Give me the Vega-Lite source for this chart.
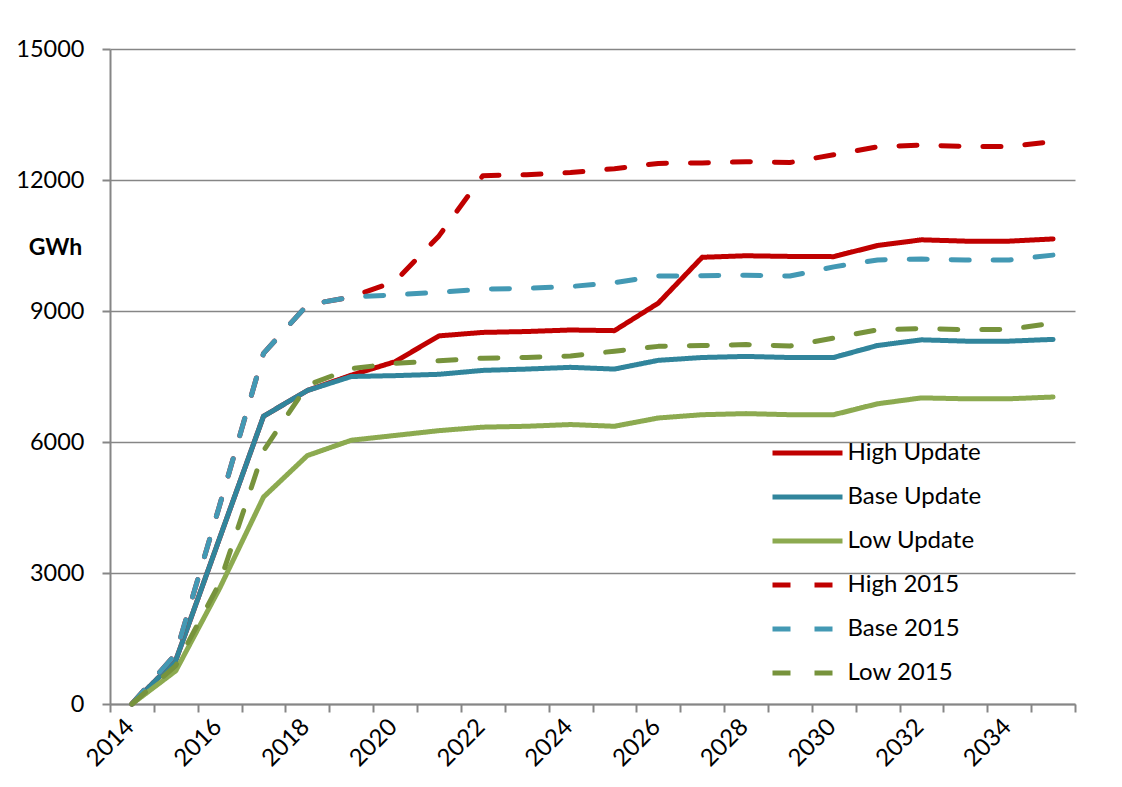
{
  "$schema": "https://vega.github.io/schema/vega-lite/v6.json",
  "width": 965,
  "height": 655,
  "autosize": {"type": "none"},
  "padding": {"left": 110, "top": 49, "right": 47, "bottom": 83},
  "background": "white",
  "config": {"view": {"stroke": null}, "font": "Lato"},
  "data": {
    "values": [
      {"year": 2014, "High Update": 0, "Base Update": 0, "Low Update": 0, "High 2015": 0, "Base 2015": 0, "Low 2015": 0},
      {"year": 2015, "High Update": 1000, "Base Update": 1000, "Low Update": 760, "High 2015": 1150, "Base 2015": 1150, "Low 2015": 880},
      {"year": 2016, "High Update": 3800, "Base Update": 3800, "Low Update": 2650, "High 2015": 4550, "Base 2015": 4550, "Low 2015": 2770},
      {"year": 2017, "High Update": 6590, "Base Update": 6590, "Low Update": 4740, "High 2015": 8030, "Base 2015": 8030, "Low 2015": 5800},
      {"year": 2018, "High Update": 7180, "Base Update": 7180, "Low Update": 5690, "High 2015": 9140, "Base 2015": 9140, "Low 2015": 7300},
      {"year": 2019, "High Update": 7530, "Base Update": 7500, "Low Update": 6040, "High 2015": 9320, "Base 2015": 9320, "Low 2015": 7680},
      {"year": 2020, "High Update": 7840, "Base Update": 7520, "Low Update": 6150, "High 2015": 9680, "Base 2015": 9370, "Low 2015": 7800},
      {"year": 2021, "High Update": 8430, "Base Update": 7550, "Low Update": 6260, "High 2015": 10720, "Base 2015": 9430, "Low 2015": 7860},
      {"year": 2022, "High Update": 8510, "Base Update": 7640, "Low Update": 6340, "High 2015": 12100, "Base 2015": 9500, "Low 2015": 7920},
      {"year": 2023, "High Update": 8530, "Base Update": 7670, "Low Update": 6360, "High 2015": 12120, "Base 2015": 9520, "Low 2015": 7935},
      {"year": 2024, "High Update": 8565, "Base Update": 7710, "Low Update": 6400, "High 2015": 12170, "Base 2015": 9560, "Low 2015": 7970},
      {"year": 2025, "High Update": 8550, "Base Update": 7670, "Low Update": 6360, "High 2015": 12260, "Base 2015": 9650, "Low 2015": 8080},
      {"year": 2026, "High Update": 9180, "Base Update": 7870, "Low Update": 6550, "High 2015": 12380, "Base 2015": 9800, "Low 2015": 8190},
      {"year": 2027, "High Update": 10230, "Base Update": 7935, "Low Update": 6625, "High 2015": 12390, "Base 2015": 9810, "Low 2015": 8210},
      {"year": 2028, "High Update": 10265, "Base Update": 7960, "Low Update": 6650, "High 2015": 12420, "Base 2015": 9820, "Low 2015": 8230},
      {"year": 2029, "High Update": 10250, "Base Update": 7935, "Low Update": 6625, "High 2015": 12400, "Base 2015": 9800, "Low 2015": 8200},
      {"year": 2030, "High Update": 10245, "Base Update": 7935, "Low Update": 6625, "High 2015": 12580, "Base 2015": 10010, "Low 2015": 8380},
      {"year": 2031, "High Update": 10500, "Base Update": 8210, "Low Update": 6875, "High 2015": 12760, "Base 2015": 10170, "Low 2015": 8570},
      {"year": 2032, "High Update": 10630, "Base Update": 8340, "Low Update": 7010, "High 2015": 12800, "Base 2015": 10190, "Low 2015": 8600},
      {"year": 2033, "High Update": 10600, "Base Update": 8310, "Low Update": 6990, "High 2015": 12770, "Base 2015": 10170, "Low 2015": 8570},
      {"year": 2034, "High Update": 10600, "Base Update": 8310, "Low Update": 6990, "High 2015": 12770, "Base 2015": 10170, "Low 2015": 8580},
      {"year": 2035, "High Update": 10650, "Base Update": 8350, "Low Update": 7030, "High 2015": 12880, "Base 2015": 10280, "Low 2015": 8720}
    ]
  },
  "transform": [
    {"fold": ["High Update", "Base Update", "Low Update", "High 2015", "Base 2015", "Low 2015"], "as": ["series", "gwh"]}
  ],
  "mark": {"type": "line", "strokeWidth": 5, "strokeCap": "round", "strokeJoin": "round"},
  "encoding": {
    "x": {
      "field": "year",
      "type": "quantitative",
      "scale": {"domain": [2013.5, 2035.5], "nice": false, "zero": false},
      "axis": {
        "title": null,
        "values": [2013.5, 2014.5, 2015.5, 2016.5, 2017.5, 2018.5, 2019.5, 2020.5, 2021.5, 2022.5, 2023.5, 2024.5, 2025.5, 2026.5, 2027.5, 2028.5, 2029.5, 2030.5, 2031.5, 2032.5, 2033.5, 2034.5, 2035.5],
        "labelExpr": "(datum.value + 0.5) % 2 === 0 && datum.value < 2035 ? '' + (datum.value + 0.5) : ''",
        "labelOffset": 20,
        "labelAngle": -45,
        "labelAlign": "right",
        "labelBaseline": "middle",
        "labelPadding": 11,
        "labelFontSize": 24,
        "labelColor": "#000000",
        "labelOverlap": false,
        "labelFlush": false,
        "labelBound": false,
        "grid": false,
        "tickSize": 8,
        "tickColor": "#868686",
        "tickWidth": 2,
        "domainColor": "#868686",
        "domainWidth": 2
      }
    },
    "y": {
      "field": "gwh",
      "type": "quantitative",
      "scale": {"domain": [0, 15000], "nice": false},
      "axis": {
        "values": [0, 3000, 6000, 9000, 12000, 15000],
        "format": "d",
        "title": "GWh",
        "titleAngle": 0,
        "titleX": -55,
        "titleY": 198,
        "titleAlign": "center",
        "titleBaseline": "middle",
        "titleFontSize": 23,
        "titleFontWeight": "bold",
        "titleColor": "#000000",
        "grid": true,
        "gridColor": "#868686",
        "gridWidth": 1.5,
        "domainColor": "#868686",
        "domainWidth": 2,
        "tickColor": "#868686",
        "tickWidth": 2,
        "tickSize": 8,
        "labelFontSize": 23.5,
        "labelColor": "#000000",
        "labelPadding": 18
      }
    },
    "color": {
      "field": "series",
      "type": "nominal",
      "scale": {
        "domain": ["High Update", "Base Update", "Low Update", "High 2015", "Base 2015", "Low 2015"],
        "range": ["#C00000", "#31859C", "#8CAA50", "#C00000", "#4399B4", "#77933C"]
      },
      "legend": {
        "orient": "none",
        "legendX": 677.5,
        "legendY": 384,
        "title": null,
        "padding": 0,
        "symbolType": "M-2,0H2",
        "symbolSize": 1225,
        "symbolStrokeWidth": 5,
        "labelFontSize": 24,
        "labelColor": "#000000",
        "labelOffset": 20,
        "rowPadding": 12
      }
    },
    "strokeDash": {
      "field": "series",
      "type": "nominal",
      "scale": {
        "domain": ["High Update", "Base Update", "Low Update", "High 2015", "Base 2015", "Low 2015"],
        "range": [[1, 0], [1, 0], [1, 0], [18, 24], [18, 24], [18, 24]]
      },
      "legend": {
        "orient": "none",
        "legendX": 677.5,
        "legendY": 384,
        "title": null,
        "padding": 0,
        "symbolType": "M-2,0H2",
        "symbolSize": 1225,
        "symbolStrokeWidth": 5,
        "labelFontSize": 24,
        "labelColor": "#000000",
        "labelOffset": 20,
        "rowPadding": 12
      }
    }
  }
}
